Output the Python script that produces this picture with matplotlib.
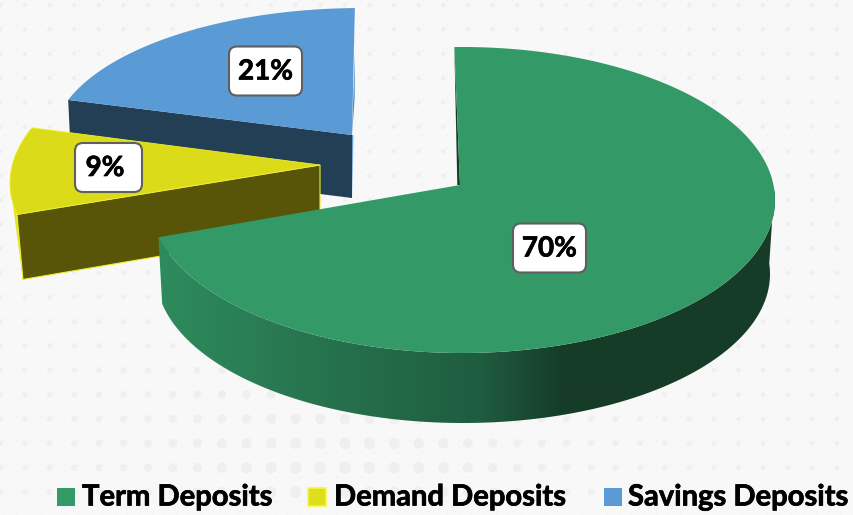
import numpy as np
import matplotlib
matplotlib.use('Agg')
import matplotlib.pyplot as plt
import matplotlib.patheffects as pe
from matplotlib.patches import FancyBboxPatch, Rectangle, Polygon

# chart values
labels = ['Term Deposits', 'Demand Deposits', 'Savings Deposits']
values = [70, 9, 21]
top_colors = ['#339966', '#dbdb1a', '#5b9bd5']
front_colors = ['#163c28', '#585508', '#233f56']
legend_colors = ['#339966', '#dede1c', '#5b9bd5']

# ellipse of each exploded slice: centre, half axes, start angle, stretch of sweep
centers = [(462, 200), (323, 183), (362, 143)]
radii = [(313, 153), (313, 150), (310, 135)]
starts = [-1.4, 257.9, 288.6]
stretch = [1.021, 1.04, 0.927]
apexes = [(460, 185), (320, 165), (352, 135)]
box_centers = [(549.5, 248), (108.5, 167.5), (265.5, 71)]
legend_x = [57, 308.5, 604]
legend_text_x = [82, 334, 628]


def arc(cx, cy, a, b, p0, p1, n=200):
    phi = np.radians(np.linspace(p0, p1, n))
    return cx + a * np.sin(phi), cy - b * np.cos(phi)


fig = plt.figure(figsize=(8.54, 5.15), dpi=100, facecolor='#f8f8f8')
ax = fig.add_axes([0, 0, 1, 1])
ax.axis('off')

# dotted background
gx, gy = np.meshgrid(np.arange(0.5, 860, 24.6), np.arange(5, 515, 24.35))
rad = 2.2 + 3.8 * np.exp(-((gx - 340) / 230) ** 2 - ((gy - 470) / 110) ** 2)
ax.scatter(gx.ravel(), gy.ravel(), s=(rad.ravel() * 1.44) ** 2, c='#efefef', lw=0, zorder=1)
fx, fy = np.meshgrid(np.arange(4, 860, 12.3), np.arange(1, 515, 12.2))
ax.scatter(fx.ravel(), fy.ravel(), s=1.5, c='#f2f2e4', lw=0, zorder=1)

angles = [v / 100 * 360 * k for v, k in zip(values, stretch)]

# savings slice, at the back
i = 2
x, y = arc(*centers[i], *radii[i], starts[i], starts[i] + angles[i])
ax.fill([x[0], apexes[i][0], apexes[i][0], x[0] + 3], [y[0], apexes[i][1], apexes[i][1] + 63, y[0] + 63],
        color=front_colors[i], lw=0, zorder=2)
ax.fill([apexes[i][0], apexes[i][0] + 1.3, apexes[i][0] + 0.6], [apexes[i][1], apexes[i][1], apexes[i][1] + 63],
        color='#5b9bd5', lw=0, zorder=2)
ax.fill(np.r_[apexes[i][0], x], np.r_[apexes[i][1], y], color=top_colors[i], lw=0, zorder=3)
ax.fill([x[-1], x[-1] - 0.2, apexes[i][0]], [y[-1] + 45, y[-1] + 90, apexes[i][1]], color='#4f86b8', lw=0, zorder=3)

# demand slice
i = 1
x, y = arc(*centers[i], *radii[i], starts[i], starts[i] + angles[i])
sx, sy = arc(*centers[i], *radii[i], starts[i], 270, 30)
ax.fill(np.r_[sx, x[0] + 6], np.r_[sy, y[0] + 65], color='#e2e21e', lw=0, zorder=4)
ax.fill([x[0], apexes[i][0], apexes[i][0], x[0] + 6], [y[0], apexes[i][1], apexes[i][1] + 64, y[0] + 65],
        fc=front_colors[i], ec='#eeee30', lw=0.8, zorder=4)
ax.fill(np.r_[apexes[i][0], x], np.r_[apexes[i][1], y], fc=top_colors[i], ec='#eeee30', lw=0.6, zorder=5)

# term slice: rim with shading that goes dark to the right, then the top
i = 0
x, y = arc(*centers[i], *radii[i], starts[i], starts[i] + angles[i])
tx, ty = arc(*centers[i], *radii[i], 86, starts[i] + angles[i], 260)
bx, by = arc(463, 274, 307, 149, 86, 258.5, 260)
shade_x = [160, 300, 400, 480, 560, 780]
shade_r = [0x2e, 0x28, 0x22, 0x1f, 0x16, 0x16]
shade_g = [0x8b, 0x76, 0x68, 0x5c, 0x3d, 0x3c]
shade_b = [0x5e, 0x50, 0x47, 0x40, 0x29, 0x28]
cols = np.arange(150, 790)
grad = np.stack([np.interp(cols, shade_x, shade_r), np.interp(cols, shade_x, shade_g),
                 np.interp(cols, shade_x, shade_b)], axis=-1)[np.newaxis, :, :] / 255
rim = Polygon(np.c_[np.r_[tx, bx[::-1]], np.r_[ty, by[::-1]]], closed=True, transform=ax.transData, fc='none', ec='none')
ax.add_patch(rim)
im = ax.imshow(grad, extent=(150, 790, 430, 190), aspect='auto', zorder=6, interpolation='bilinear')
im.set_clip_path(rim)
ax.fill([x[0], apexes[i][0] - 2.7, apexes[i][0]], [y[0], apexes[i][1], apexes[i][1]], color=front_colors[i], lw=0, zorder=6)
ax.fill(np.r_[apexes[i][0], x], np.r_[apexes[i][1], y], color=top_colors[i], lw=0, zorder=7)

ax.set_xlim(0, 854)
ax.set_ylim(515, 0)

heavy = [pe.withStroke(linewidth=0.5, foreground='black')]

# value boxes
for v, (cx, cy) in zip(values, box_centers):
    w = 66 if v > 9 else 60
    h = 42
    ax.add_patch(FancyBboxPatch((cx - w / 2, cy - h / 2), w, h, boxstyle='round,pad=3.5,rounding_size=8',
                                fc='white', ec='#5f5f5f', lw=1.5, zorder=8))
    ax.text(cx + (0 if v > 9 else -3.5), cy + 0.5, f'{v}%', ha='center', va='center', fontsize=20, fontweight='bold',
            family='Lato', color='black', zorder=9, path_effects=heavy)

# legend
for name, col, lx, tx0 in zip(labels, legend_colors, legend_x, legend_text_x):
    edge = '#f6f64a' if col == '#dede1c' else col
    ax.add_patch(Rectangle((lx, 488), 18, 18, fc=col, ec=edge, lw=1.2 if edge != col else 0, zorder=8))
    ax.text(tx0, 497.5, name, ha='left', va='center', fontsize=21, fontweight='bold', family='Lato',
            color='black', zorder=9, path_effects=heavy)

fig.savefig('out.png', dpi=100, facecolor=fig.get_facecolor())
